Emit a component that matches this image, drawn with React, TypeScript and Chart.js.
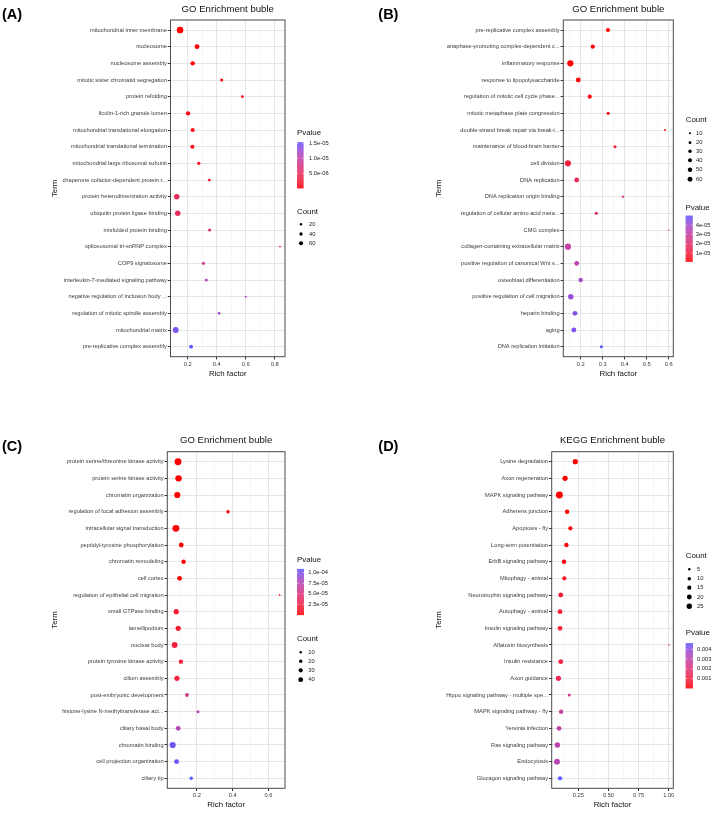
import React, { useEffect, useRef } from "react";
import { Chart, registerables } from "chart.js";
Chart.register(...registerables);

const FONT = '"Liberation Sans", Arial, Helvetica, sans-serif';

// ---------------- Panel A (GO) ----------------
const termsA = [
  "mitochondrial inner membrane", "nucleosome", "nucleosome assembly",
  "mitotic sister chromatid segregation", "protein refolding", "ficolin-1-rich granule lumen",
  "mitochondrial translational elongation", "mitochondrial translational termination",
  "mitochondrial large ribosomal subunit", "chaperone cofactor-dependent protein r...",
  "protein heterodimerization activity", "ubiquitin protein ligase binding",
  "misfolded protein binding", "spliceosomal tri-snRNP complex", "COP9 signalosome",
  "interleukin-7-mediated signaling pathway", "negative regulation of inclusion body ...",
  "regulation of mitotic spindle assembly", "mitochondrial matrix", "pre-replicative complex assembly",
];
const richA = [0.147, 0.264, 0.234, 0.434, 0.577, 0.202, 0.234, 0.232, 0.276, 0.349, 0.124, 0.131, 0.351, 0.836, 0.308, 0.328, 0.6, 0.416, 0.117, 0.223];
const countA = [159, 83, 69, 34, 27, 69, 60, 60, 41, 27, 106, 106, 34, 11, 34, 34, 15, 27, 122, 51];
const pvalA = [1e-9, 3e-8, 1e-7, 2e-7, 4e-7, 6e-7, 8e-7, 9e-7, 1.2e-6, 1.6e-6, 4.5e-6, 4.8e-6, 6.1e-6, 6.5e-6, 8.4e-6, 1.07e-5, 1.15e-5, 1.23e-5, 1.43e-5, 1.533e-5];
const xTicksA = [0.2, 0.4, 0.6, 0.8];
const xTickLabelsA = ["0.2", "0.4", "0.6", "0.8"];
const xMinorA = [0.1, 0.3, 0.5, 0.7];
const countBreaksA = [20, 40, 60];
const pBreaksA = [5e-6, 1e-5, 1.5e-5];
const pBreakLabelsA = ["5.0e-06", "1.0e-05", "1.5e-05"];

// ---------------- Panel B (GO) ----------------
const termsB = [
  "pre-replicative complex assembly", "anaphase-promoting complex-dependent c...",
  "inflammatory response", "response to lipopolysaccharide", "regulation of mitotic cell cycle phase...",
  "mitotic metaphase plate congression", "double-strand break repair via break-i...",
  "maintenance of blood-brain barrier", "cell division", "DNA replication",
  "DNA replication origin binding", "regulation of cellular amino acid meta...", "CMG complex",
  "collagen-containing extracellular matrix", "positive regulation of canonical Wnt s...",
  "osteoblast differentiation", "positive regulation of cell migration", "heparin binding",
  "aging", "DNA replication initiation",
];
const richB = [0.324, 0.255, 0.153, 0.189, 0.241, 0.325, 0.583, 0.356, 0.142, 0.182, 0.392, 0.271, 0.6, 0.142, 0.182, 0.2, 0.155, 0.174, 0.169, 0.294];
const countB = [43, 43, 97, 59, 43, 24, 11, 24, 97, 59, 14, 29, 5, 97, 59, 50, 75, 59, 59, 24];
const pvalB = [1.1e-6, 1.3e-6, 1.6e-6, 2.0e-6, 2.5e-6, 4e-6, 6e-6, 9e-6, 1.1e-5, 1.6e-5, 2.6e-5, 2.3e-5, 2.9e-5, 3.1e-5, 3.3e-5, 3.8e-5, 4.2e-5, 4.5e-5, 4.6e-5, 4.95e-5];
const xTicksB = [0.2, 0.3, 0.4, 0.5, 0.6];
const xTickLabelsB = ["0.2", "0.3", "0.4", "0.5", "0.6"];
const xMinorB = [0.15, 0.25, 0.35, 0.45, 0.55];
const countBreaksB = [10, 20, 30, 40, 50, 60];
const pBreaksB = [1e-5, 2e-5, 3e-5, 4e-5];
const pBreakLabelsB = ["1e-05", "2e-05", "3e-05", "4e-05"];

// ---------------- Panel C (GO) ----------------
const termsC = [
  "protein serine/threonine kinase activity", "protein serine kinase activity", "chromatin organization",
  "regulation of focal adhesion assembly", "intracellular signal transduction",
  "peptidyl-tyrosine phosphorylation", "chromatin remodeling", "cell cortex",
  "regulation of epithelial cell migration", "small GTPase binding", "lamellipodium", "nuclear body",
  "protein tyrosine kinase activity", "cilium assembly", "post-embryonic development",
  "histone-lysine N-methyltransferase act...", "ciliary basal body", "chromatin binding",
  "cell projection organization", "ciliary tip",
];
const richC = [0.094, 0.097, 0.09, 0.374, 0.082, 0.112, 0.125, 0.103, 0.663, 0.084, 0.095, 0.075, 0.11, 0.088, 0.144, 0.206, 0.095, 0.064, 0.086, 0.168];
const countC = [82, 72, 66, 20, 82, 40, 34, 40, 5, 46, 46, 59, 34, 46, 25, 16, 40, 66, 40, 20];
const pvalC = [1e-12, 1e-11, 5e-11, 1e-10, 5e-10, 2e-9, 5e-9, 1e-8, 5e-8, 1.1e-5, 1.6e-5, 1.9e-5, 2.1e-5, 2.2e-5, 5.4e-5, 7.0e-5, 7.6e-5, 1.03e-4, 1.05e-4, 1.08e-4];
const xTicksC = [0.2, 0.4, 0.6];
const xTickLabelsC = ["0.2", "0.4", "0.6"];
const xMinorC = [0.1, 0.3, 0.5];
const countBreaksC = [10, 20, 30, 40];
const pBreaksC = [2.5e-5, 5e-5, 7.5e-5, 1e-4];
const pBreakLabelsC = ["2.5e-05", "5.0e-05", "7.5e-05", "1.0e-04"];

// ---------------- Panel D (KEGG) ----------------
const termsD = [
  "Lysine degradation", "Axon regeneration", "MAPK signaling pathway", "Adherens junction",
  "Apoptosis - fly", "Long-term potentiation", "ErbB signaling pathway", "Mitophagy - animal",
  "Neurotrophin signaling pathway", "Autophagy - animal", "Insulin signaling pathway",
  "Aflatoxin biosynthesis", "Insulin resistance", "Axon guidance",
  "Hippo signaling pathway - multiple spe...", "MAPK signaling pathway - fly", "Yersinia infection",
  "Ras signaling pathway", "Endocytosis", "Glucagon signaling pathway",
];
const richD = [0.225, 0.14, 0.093, 0.157, 0.184, 0.151, 0.131, 0.134, 0.104, 0.098, 0.098, 1.0, 0.104, 0.085, 0.175, 0.107, 0.09, 0.076, 0.073, 0.098];
const countD = [23, 23, 41, 17, 15, 17, 17, 15, 20, 20, 20, 2, 20, 23, 8, 17, 20, 26, 29, 15];
const pvalD = [1e-8, 5e-7, 1e-6, 1e-5, 3e-5, 6e-5, 1.5e-4, 3.7e-4, 7e-4, 8.3e-4, 8.5e-4, 9e-4, 1.0e-3, 1.3e-3, 2.3e-3, 2.8e-3, 2.9e-3, 3.05e-3, 3.2e-3, 4.62e-3];
const xTicksD = [0.25, 0.5, 0.75, 1.0];
const xTickLabelsD = ["0.25", "0.50", "0.75", "1.00"];
const xMinorD = [0.125, 0.375, 0.625, 0.875];
const countBreaksD = [5, 10, 15, 20, 25];
const pBreaksD = [0.001, 0.002, 0.003, 0.004];
const pBreakLabelsD = ["0.001", "0.002", "0.003", "0.004"];

// ---------------- colour scale (Lab interpolation, red -> blue) ----------------
const LOW = [255, 0, 0];
const HIGH = [90, 88, 255];

function toLin(c: number) { c /= 255; return c <= 0.04045 ? c / 12.92 : Math.pow((c + 0.055) / 1.055, 2.4); }
function fromLin(c: number) { const v = c <= 0.0031308 ? 12.92 * c : 1.055 * Math.pow(c, 1 / 2.4) - 0.055; return Math.max(0, Math.min(255, Math.round(v * 255))); }
const WX = 0.95047, WY = 1.0, WZ = 1.08883;
function f(t: number) { return t > 0.008856 ? Math.cbrt(t) : 7.787 * t + 16 / 116; }
function finv(t: number) { return t * t * t > 0.008856 ? t * t * t : (t - 16 / 116) / 7.787; }
function rgbToLab(rgb: number[]) {
  const r = toLin(rgb[0]), g = toLin(rgb[1]), b = toLin(rgb[2]);
  const x = (0.4124 * r + 0.3576 * g + 0.1805 * b) / WX;
  const y = (0.2126 * r + 0.7152 * g + 0.0722 * b) / WY;
  const z = (0.0193 * r + 0.1192 * g + 0.9505 * b) / WZ;
  const fx = f(x), fy = f(y), fz = f(z);
  return [116 * fy - 16, 500 * (fx - fy), 200 * (fy - fz)];
}
function labToRgb(lab: number[]) {
  const fy = (lab[0] + 16) / 116, fx = fy + lab[1] / 500, fz = fy - lab[2] / 200;
  const x = finv(fx) * WX, y = finv(fy) * WY, z = finv(fz) * WZ;
  const r = 3.2406 * x - 1.5372 * y - 0.4986 * z;
  const g = -0.9689 * x + 1.8758 * y + 0.0415 * z;
  const b = 0.0557 * x - 0.204 * y + 1.057 * z;
  return [fromLin(r), fromLin(g), fromLin(b)];
}
const LAB_LOW = rgbToLab(LOW), LAB_HIGH = rgbToLab(HIGH);
function pColor(p: number, pmin: number, pmax: number) {
  const t = Math.max(0, Math.min(1, (p - pmin) / (pmax - pmin)));
  const lab = LAB_LOW.map((v, i) => v + (LAB_HIGH[i] - v) * t);
  const c = labToRgb(lab);
  return `rgb(${c[0]},${c[1]},${c[2]})`;
}

// ---------------- panel layout (positions & styles) ----------------
const panels = [
  {
    id: "A", left: 0, top: 0, w: 360, h: 400,
    terms: termsA, rich: richA, count: countA, pval: pvalA,
    xTicks: xTicksA, xTickLabels: xTickLabelsA, xMinor: xMinorA, xMin: 0.081, xMax: 0.871,
    plot: { l: 170.5, r: 285, t: 20, b: 356.7 },
    label: "(A)", labelX: 2, labelY: 15, title: "GO Enrichment buble", titleY: 9, xTitleY: 373.7, termX: 55,
    sizeK: 0.53, countBreaks: countBreaksA, pBreaks: pBreaksA, pBreakLabels: pBreakLabelsA,
    pv: { titleX: 297, titleY: 133, barX: 297, barW: 6.5, barTop: 142.3, barBot: 188.3, labelX: 309 },
    cnt: { titleX: 297, titleY: 212.3, dotX: 301, dotY: [224.3, 234, 243.3], labelX: 309 },
  },
  {
    id: "B", left: 360, top: 0, w: 360, h: 400,
    terms: termsB, rich: richB, count: countB, pval: pvalB,
    xTicks: xTicksB, xTickLabels: xTickLabelsB, xMinor: xMinorB, xMin: 0.121, xMax: 0.621,
    plot: { l: 203.3, r: 313.3, t: 20, b: 356.7 },
    label: "(B)", labelX: 18.3, labelY: 15, title: "GO Enrichment buble", titleY: 9, xTitleY: 373.7, termX: 79,
    sizeK: 0.63, countBreaks: countBreaksB, pBreaks: pBreaksB, pBreakLabels: pBreakLabelsB,
    pv: { titleX: 325.5, titleY: 207.7, barX: 325.7, barW: 7, barTop: 216, barBot: 261.7, labelX: 335.7 },
    cnt: { titleX: 325.7, titleY: 120, dotX: 330, dotY: [133.3, 142.7, 151.3, 160.3, 169.7, 179.3], labelX: 336 },
  },
  {
    id: "C", left: 0, top: 400, w: 360, h: 415,
    terms: termsC, rich: richC, count: countC, pval: pvalC,
    xTicks: xTicksC, xTickLabels: xTickLabelsC, xMinor: xMinorC, xMin: 0.034, xMax: 0.693,
    plot: { l: 167.3, r: 285, t: 51.7, b: 388.3 },
    label: "(C)", labelX: 2, labelY: 46.7, title: "GO Enrichment buble", titleY: 40, xTitleY: 405, termX: 55,
    sizeK: 0.76, countBreaks: countBreaksC, pBreaks: pBreaksC, pBreakLabels: pBreakLabelsC,
    pv: { titleX: 297, titleY: 160.3, barX: 297, barW: 7, barTop: 169.3, barBot: 215, labelX: 308.3 },
    cnt: { titleX: 297, titleY: 239, dotX: 300.7, dotY: [252.3, 261.3, 270.3, 279.7], labelX: 308.3 },
  },
  {
    id: "D", left: 360, top: 400, w: 360, h: 415,
    terms: termsD, rich: richD, count: countD, pval: pvalD,
    xTicks: xTicksD, xTickLabels: xTickLabelsD, xMinor: xMinorD, xMin: 0.029, xMax: 1.038,
    plot: { l: 191.7, r: 313.3, t: 51.7, b: 388.3 },
    label: "(D)", labelX: 18.3, labelY: 46.7, title: "KEGG Enrichment buble", titleY: 40, xTitleY: 405, termX: 79,
    sizeK: 1.08, countBreaks: countBreaksD, pBreaks: pBreaksD, pBreakLabels: pBreakLabelsD,
    pv: { titleX: 325.7, titleY: 233.3, barX: 325.7, barW: 7.3, barTop: 243.3, barBot: 288.3, labelX: 337 },
    cnt: { titleX: 325.7, titleY: 156, dotX: 329.3, dotY: [169.3, 178.7, 187.7, 197, 206.3], labelX: 337 },
  },
];

type PanelCfg = typeof panels[number];

function makeDecor(cfg: PanelCfg) {
  const pmin = Math.min(...cfg.pval), pmax = Math.max(...cfg.pval);
  return {
    id: "decor" + cfg.id,
    afterDatasetsDraw(chart: any) {
      const { ctx, chartArea: a } = chart;
      ctx.save();
      ctx.strokeStyle = "#4a4a4a";
      ctx.lineWidth = 1;
      ctx.strokeRect(a.left, a.top, a.right - a.left, a.bottom - a.top);
      ctx.restore();
    },
    afterDraw(chart: any) {
      const { ctx, chartArea: a } = chart;
      ctx.save();
      ctx.textBaseline = "middle";
      // panel label
      ctx.fillStyle = "#000";
      ctx.textAlign = "left";
      ctx.font = `bold 14.5px ${FONT}`;
      ctx.fillText(cfg.label, cfg.labelX, cfg.labelY);
      // title
      ctx.textAlign = "center";
      ctx.font = `9.6px ${FONT}`;
      ctx.fillStyle = "#111";
      ctx.fillText(cfg.title, (a.left + a.right) / 2, cfg.titleY);
      // axis titles
      ctx.font = `7.9px ${FONT}`;
      ctx.fillText("Rich factor", (a.left + a.right) / 2, cfg.xTitleY);
      ctx.save();
      ctx.translate(cfg.termX, (a.top + a.bottom) / 2);
      ctx.rotate(-Math.PI / 2);
      ctx.fillText("Term", 0, 0);
      ctx.restore();

      // Pvalue legend
      const pv = cfg.pv;
      ctx.textAlign = "left";
      ctx.font = `7.9px ${FONT}`;
      ctx.fillStyle = "#111";
      ctx.fillText("Pvalue", pv.titleX, pv.titleY);
      const H = pv.barBot - pv.barTop;
      for (let y = 0; y < H; y += 0.5) {
        const t = y / H;
        ctx.fillStyle = pColor(pmin + t * (pmax - pmin), pmin, pmax);
        ctx.fillRect(pv.barX, pv.barBot - y - 0.6, pv.barW, 0.7);
      }
      ctx.font = `5.8px ${FONT}`;
      cfg.pBreaks.forEach((b, i) => {
        const y = pv.barBot - ((b - pmin) / (pmax - pmin)) * H;
        ctx.strokeStyle = "#fff";
        ctx.lineWidth = 0.6;
        ctx.beginPath();
        ctx.moveTo(pv.barX, y); ctx.lineTo(pv.barX + pv.barW / 5, y);
        ctx.moveTo(pv.barX + (pv.barW * 4) / 5, y); ctx.lineTo(pv.barX + pv.barW, y);
        ctx.stroke();
        ctx.fillStyle = "#222";
        ctx.fillText(cfg.pBreakLabels[i], pv.labelX, y);
      });

      // Count legend
      const cn = cfg.cnt;
      ctx.font = `7.9px ${FONT}`;
      ctx.fillStyle = "#111";
      ctx.fillText("Count", cn.titleX, cn.titleY);
      ctx.font = `5.8px ${FONT}`;
      cfg.countBreaks.forEach((b, i) => {
        const r = (cfg.sizeK * Math.sqrt(b)) / 2;
        ctx.fillStyle = "#000";
        ctx.beginPath();
        ctx.arc(cn.dotX, cn.dotY[i], r, 0, Math.PI * 2);
        ctx.fill();
        ctx.fillStyle = "#222";
        ctx.fillText(String(b), cn.labelX, cn.dotY[i]);
      });
      ctx.restore();
    },
  };
}

function buildConfig(cfg: PanelCfg): any {
  const pmin = Math.min(...cfg.pval), pmax = Math.max(...cfg.pval);
  const isMajor = (v: number) => cfg.xTicks.indexOf(v) >= 0;
  const n = cfg.terms.length;
  return {
    type: "scatter",
    data: {
      datasets: [
        {
          data: cfg.rich.map((x, i) => ({ x, y: i })),
          pointRadius: (c: any) => (cfg.sizeK * Math.sqrt(cfg.count[c.dataIndex] ?? 1)) / 2,
          pointHoverRadius: (c: any) => (cfg.sizeK * Math.sqrt(cfg.count[c.dataIndex] ?? 1)) / 2,
          pointBackgroundColor: (c: any) => pColor(cfg.pval[c.dataIndex] ?? pmin, pmin, pmax),
          pointBorderWidth: 0,
          borderWidth: 0,
        },
      ],
    },
    options: {
      responsive: false,
      animation: false,
      devicePixelRatio: 1,
      events: [],
      layout: { padding: { left: 0, top: cfg.plot.t, right: cfg.w - cfg.plot.r, bottom: 0 } },
      plugins: { legend: { display: false }, tooltip: { enabled: false }, title: { display: false } },
      scales: {
        x: {
          type: "linear",
          min: cfg.xMin,
          max: cfg.xMax,
          afterBuildTicks: (s: any) => {
            s.ticks = [...cfg.xMinor, ...cfg.xTicks].sort((p, q) => p - q).map((v) => ({ value: v }));
          },
          afterFit: (s: any) => { s.height = cfg.h - cfg.plot.b; },
          ticks: {
            callback: (v: number) => { const i = cfg.xTicks.indexOf(v); return i >= 0 ? cfg.xTickLabels[i] : ""; },
            font: { family: FONT, size: 5.7 },
            color: "#3a3a3a",
            padding: 1.5,
            maxRotation: 0,
            autoSkip: false,
          },
          grid: {
            color: (c: any) => (c.tick && isMajor(c.tick.value) ? "#E6E6E6" : "#F2F2F2"),
            lineWidth: (c: any) => (c.tick && isMajor(c.tick.value) ? 1 : 0.6),
            tickLength: 2.7,
            tickColor: (c: any) => (c.tick && isMajor(c.tick.value) ? "#333" : "rgba(0,0,0,0)"),
          },
          border: { display: false },
        },
        y: {
          type: "linear",
          reverse: true,
          min: -0.6,
          max: n - 1 + 0.6,
          afterBuildTicks: (s: any) => { s.ticks = cfg.terms.map((_, i) => ({ value: i })); },
          afterFit: (s: any) => { s.width = cfg.plot.l; },
          ticks: {
            callback: (v: number) => cfg.terms[v],
            font: { family: FONT, size: 5.7 },
            color: "#3a3a3a",
            padding: 1,
            autoSkip: false,
          },
          grid: { color: "#E6E6E6", lineWidth: 1, tickLength: 2.7, tickColor: "#333" },
          border: { display: false },
        },
      },
    },
    plugins: [makeDecor(cfg)],
  };
}

function Panel({ cfg }: { cfg: PanelCfg }) {
  const ref = useRef<HTMLCanvasElement>(null);
  useEffect(() => {
    if (!ref.current) return;
    const chart = new Chart(ref.current, buildConfig(cfg));
    return () => chart.destroy();
  }, [cfg]);
  return (
    <canvas
      ref={ref}
      width={cfg.w}
      height={cfg.h}
      style={{ position: "absolute", left: cfg.left, top: cfg.top, width: cfg.w, height: cfg.h }}
    />
  );
}

export default function App() {
  return (
    <div style={{ position: "absolute", left: 0, top: 0, width: 720, height: 815, background: "#fff" }}>
      {panels.map((p) => (
        <Panel key={p.id} cfg={p} />
      ))}
    </div>
  );
}
